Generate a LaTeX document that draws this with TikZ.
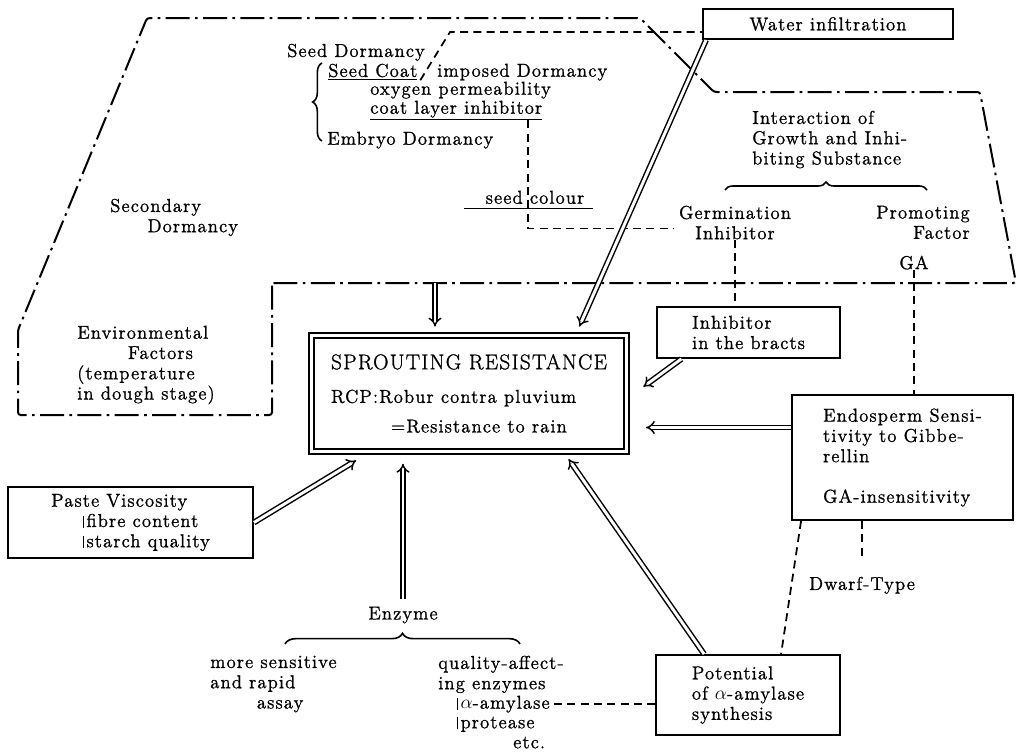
\documentclass[tikz,border=0pt]{standalone}
\usepackage{fontspec}
\setmainfont{Latin Modern Roman}[LetterSpace=6,FakeBold=1.2]
\usetikzlibrary{arrows.meta,decorations.pathreplacing}
\newcommand{\vbar}{\rule[-0.15ex]{0.5pt}{1.5ex}\hspace{2pt}}

\begin{document}
\begin{tikzpicture}[x=0.75pt,y=-0.75pt,
  font=\fontsize{14}{15.2}\selectfont,
  txt/.style={inner sep=0pt,align=left},
  box/.style={draw,line width=1.4pt,align=left,inner sep=2pt},
  dbl/.style={draw,double,double distance=2.2pt,line width=1.1pt,-{Implies}},
  dashline/.style={line width=1.3pt,dash pattern=on 6pt off 4pt},
  dashdot/.style={line width=1.5pt,dash pattern=on 18pt off 4pt on 2pt off 4pt},
  curly/.style={decorate,decoration={brace,amplitude=#1},line width=1.2pt}]
\useasboundingbox (0,0) rectangle (1022,753);

% dormancy region
\draw[dashdot,rounded corners=2pt] (272,283) -- (272,415) -- (18,415) -- (18,330) -- (147,18) -- (640,18) -- (714,92) -- (980,92) -- (1016,283) -- cycle;
\coordinate (envtop) at (435,283);
\coordinate (sdc) at (450,32);

% boxes
\node[box,minimum width=187.5pt,minimum height=22.5pt,align=center] (water) at (828,24) {Water infiltration};
\node[draw,line width=1.4pt,double,double distance=2.2pt,minimum width=236pt,minimum height=87pt,align=left] (sprout) at (469,393.5)
  {{\fontsize{16}{15.2}\selectfont SPROUTING RESISTANCE}\\[10pt]RCP:Robur contra pluvium\\[7pt]\hspace*{45pt}=Resistance to rain};
\node[box,minimum width=137.25pt,minimum height=38.25pt] (bracts) at (748.5,332.5) {Inhibitor\\in the bracts};
\node[box,minimum width=165.75pt,minimum height=93.75pt] (endo) at (902.5,457.5) {Endosperm Sensi-\\tivity to Gibbe-\\rellin\\[15.2pt]GA-insensitivity};
\node[box,minimum width=138pt,minimum height=60pt] (pot) at (748,695) {Potential\\of $\alpha$-amylase\\synthesis};
\node[box,minimum width=183.75pt,minimum height=53.25pt] (paste) at (130.5,522.5) {Paste Viscosity\\\hspace*{24pt}\vbar fibre content\\\hspace*{24pt}\vbar starch quality};

% seed dormancy texts
\node[txt,anchor=north west] (seeddorm) at (287,43.5) {Seed Dormancy};
\node[txt,anchor=north west] (seedcoat) at (328,63.5) {\underline{Seed Coat}};
\node[txt,anchor=north west] (imposed) at (437,63.5) {imposed Dormancy};
\node[txt,anchor=north west] (oxygen) at (370,81.5) {oxygen permeability};
\node[txt,anchor=north west] (cli) at (370,100.5) {\underline{coat layer inhibitor}};
\node[txt,anchor=north west] (embryo) at (327,131.5) {Embryo Dormancy};
\node[txt,anchor=north] (scol) at (535,190.5) {seed colour};
\draw[line width=1pt] ([xshift=-16pt,yshift=-3pt]scol.south west) -- ([xshift=6pt,yshift=-3pt]scol.south east);
\draw[curly=7pt] (322,141) -- (322,63);
\node[txt,anchor=north west] (secdorm) at (110,198.5) {Secondary\\\hspace*{28pt}Dormancy};
\node[txt,anchor=north west] (envfac) at (77,325.5) {Environmental\\\hspace*{38pt}Factors\\(temperature\\in dough stage)};

% growth substances
\node[txt,anchor=north west] (interact) at (752,110.5) {Interaction of\\Growth and Inhi-\\biting Substance};
\draw[curly=6pt] (725,190) -- (927,190);
\node[txt,anchor=north,align=center] (germ) at (735,205.5) {Germination\\Inhibitor};
\node[txt,anchor=north east,align=right] (promo) at (970,205.5) {Promoting\\Factor};
\node[txt,anchor=north] (ga) at (914,255.5) {GA};
\node[txt,anchor=north] (dwarf) at (862,576.5) {Dwarf-Type};

% enzyme texts
\node[txt,anchor=north] (enz) at (403,606.5) {Enzyme};
\draw[curly=8pt] (285,644) -- (520,644);
\node[txt,anchor=north west] (assay) at (210,655.5) {more sensitive\\and rapid\\\hspace*{35pt}assay};
\node[txt,anchor=north west] (quality) at (438,655.5) {quality-affect-\\ing enzymes};
\node[txt,anchor=north west] (amyl) at (457,695.5) {\vbar$\alpha$-amylase};
\node[txt,anchor=north west] (prot) at (457,716.5) {\vbar protease};
\node[txt,anchor=north west] (etc) at (513,736.5) {etc.};

% dashed relations
\draw[dashline] ([xshift=2pt]seedcoat.south east) -- (sdc) -- (sdc -| water.west);
\draw[dashline] ([xshift=-11pt]cli.south east) |- ([xshift=-4pt,yshift=-4.5pt]germ.west);
\draw[dashline] (germ.south) -- (germ.south |- bracts.north);
\draw[dashline] (ga.south) -- (ga.south |- endo.north);
\draw[dashline] ([xshift=7.5pt]endo.south west) -- ([xshift=94.5pt]pot.north west);
\draw[dashline] (dwarf.north |- endo.south) -- ([yshift=12pt]dwarf.north);
\draw[dashline] ([xshift=3pt]amyl.east) -- (amyl.east -| pot.west);

% influences on sprouting resistance
\draw[dbl] ([xshift=3pt]water.south west) -- ([xshift=-36pt,yshift=6pt]sprout.north east);
\draw[dbl] (envtop) -- ([yshift=6pt]envtop |- sprout.north);
\draw[dbl] ([xshift=19pt]bracts.south west) -- ([xshift=12pt,yshift=5pt]sprout.east);
\coordinate (endoin) at ([yshift=22.5pt]endo.west);
\draw[dbl] (endoin) -- ([xshift=14pt]sprout.east |- endoin);
\draw[dbl] ([xshift=36.75pt]pot.north west) -- ([xshift=-44pt,yshift=-5pt]sprout.south east);
\draw[dbl] (paste.east) -- ([xshift=34pt,yshift=-6pt]sprout.south west);
\draw[dbl] ([yshift=6pt]enz.north) -- ([yshift=-8.5pt]enz.north |- sprout.south);
\end{tikzpicture}
\end{document}
